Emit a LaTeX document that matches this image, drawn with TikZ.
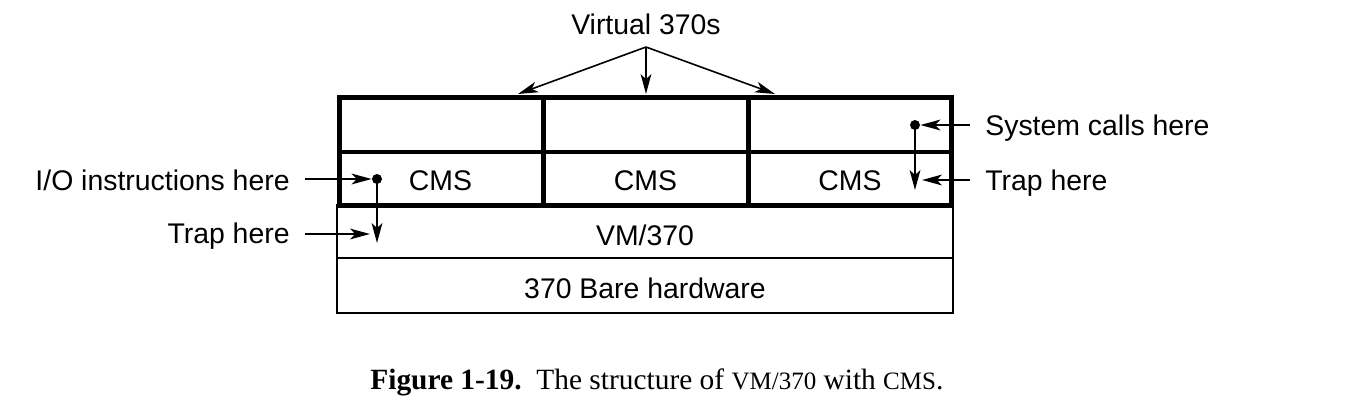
\documentclass[tikz,border=0pt]{standalone}
\usepackage{fontspec}
\setmainfont{Liberation Serif}
\setsansfont{Liberation Sans}
\usetikzlibrary{arrows.meta}
\begin{document}
\begin{tikzpicture}[x=0.5pt,y=-0.5pt,
  lbl/.style={font=\sffamily\fontsize{14.2}{16}\selectfont, inner sep=0},
  arr/.style={line width=0.8pt, -{Stealth[length=10pt,width=5.4pt,inset=2.6pt]}},
  varr/.style={line width=1.1pt, -{Stealth[length=10pt,width=5.4pt,inset=2.6pt]}},
  dotnode/.style={circle, fill, inner sep=0, minimum size=5pt},
  thickline/.style={line width=2.5pt},
  midline/.style={line width=1.6pt},
  thinline/.style={line width=1pt}]
\useasboundingbox (0,0) rectangle (1346,418);
% lower boxes
\draw[thinline] (337,205) rectangle (953,313);
\draw[thinline] (337,258) -- (953,258);
% upper boxes
\draw[midline] (339,152) -- (951,152);
\draw[thickline] (339,97) rectangle (951,205);
\draw[thickline] (543,97) -- (543,205);
\draw[thickline] (748,97) -- (748,205);
% texts in boxes
\node[lbl, anchor=base] (cms1) at (440.5,190) {CMS};
\node[lbl, anchor=base] (cms2) at (645.5,190) {CMS};
\node[lbl, anchor=base] (cms3) at (850,190) {CMS};
\node[lbl, anchor=base] (vm) at (645,245) {VM/370};
\node[lbl, anchor=base] (hw) at (645,298) {370 Bare hardware};
% virtual 370s
\node[lbl, anchor=base] (virt) at (646,34) {Virtual 370s};
\coordinate (apex) at (646,47);
\coordinate (v1) at (518,94);
\coordinate (v2) at (646,94);
\coordinate (v3) at (775,94);
\draw[arr] (apex) -- (v1);
\draw[arr] (apex) -- (v2);
\draw[arr] (apex) -- (v3);
% left labels
\node[lbl, anchor=base east] (io) at (290,190) {I/O instructions here};
\node[lbl, anchor=base east] (trapL) at (290,243) {Trap here};
\coordinate (ioS) at (305,179);
\node[dotnode] (d1) at (377,179) {};
\coordinate (t1) at (377,243);
\coordinate (trLS) at (305,234);
\coordinate (trLE) at (370,234);
\draw[arr] (ioS) -- (d1);
\draw[varr] (d1.center) -- (t1);
\draw[arr] (trLS) -- (trLE);
% right labels
\node[lbl, anchor=base west] (sys) at (985,135) {System calls here};
\node[lbl, anchor=base west] (trapR) at (985,190) {Trap here};
\coordinate (sysS) at (970,125);
\node[dotnode] (d2) at (915,125) {};
\coordinate (t2) at (915,190);
\coordinate (trRS) at (970,180);
\coordinate (trRE) at (922,180);
\draw[arr] (sysS) -- (d2);
\draw[varr] (d2.center) -- (t2);
\draw[arr] (trRS) -- (trRE);
% caption
\node[anchor=base west, inner sep=0, font=\fontsize{14.7}{16}\selectfont] (cap) at (370,389)
  {\textbf{Figure 1-19.}\hspace{0.5em}The structure of {\fontsize{12.5}{14}\selectfont VM/370} with {\fontsize{12.5}{14}\selectfont CMS}.};
\end{tikzpicture}
\end{document}
